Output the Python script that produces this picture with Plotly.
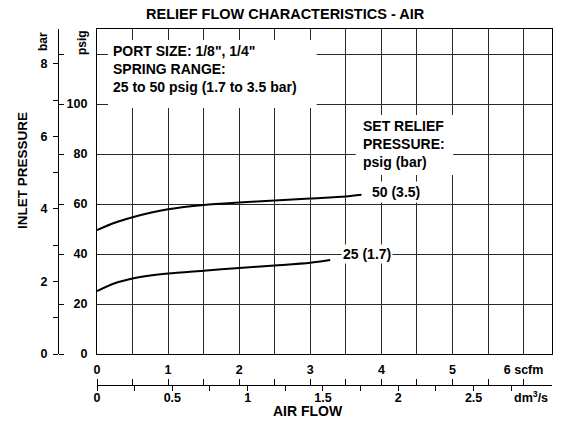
import plotly.graph_objects as go

# ---- data ----
flow_50 = [0, 0.25, 0.5, 0.75, 1.0, 1.5, 2.0, 2.5, 3.0, 3.5, 3.72]          # scfm
psig_50 = [49.6, 52.5, 54.7, 56.5, 57.9, 59.6, 60.6, 61.4, 62.2, 63.0, 63.7]
flow_25 = [0, 0.25, 0.5, 0.75, 1.0, 1.5, 2.0, 2.5, 3.0, 3.28]
psig_25 = [25.2, 28.3, 30.2, 31.4, 32.2, 33.3, 34.4, 35.4, 36.5, 37.6]

scfm_ticks = [0, 0.5, 1, 1.5, 2, 2.5, 3, 3.5, 4, 4.5, 5, 5.5, 6]
scfm_text = ["0", "", "1", "", "2", "", "3", "", "4", "", "5", "", "6 scfm"]
dm3_ticks = [0, 0.25, 0.5, 0.75, 1, 1.25, 1.5, 1.75, 2, 2.25, 2.5, 2.75]
dm3_text = ["0", "", "0.5", "", "1", "", "1.5", "", "2", "", "2.5", ""]
psig_ticks = [0, 20, 40, 60, 80, 100, 120]
psig_text = ["0", "20", "40", "60", "80", "100", ""]
bar_ticks = [0, 1, 2, 3, 4, 5, 6, 7, 8]
bar_text = ["0", "", "2", "", "4", "", "6", "", "8"]

X_MAX = 6.4
Y_MAX = 130
PSI_PER_BAR = 14.5038
DM3_PER_SCFM = 0.471947

W, H = 565, 421
OFF = 8  # page body margin offset
FONT = "Liberation Sans, Arial, Helvetica, sans-serif"
bold = dict(family=FONT, size=12.5, color="black", weight="bold")


def px(xp):
    return (xp - OFF) / W


def py(yp):
    return (H - (yp - OFF)) / H


fig = go.Figure()
fig.add_trace(go.Scatter(x=flow_50, y=psig_50, mode="lines",
                         line=dict(color="black", width=2, shape="spline", smoothing=0.8),
                         showlegend=False, hoverinfo="skip"))
fig.add_trace(go.Scatter(x=flow_25, y=psig_25, mode="lines",
                         line=dict(color="black", width=2, shape="spline", smoothing=0.8),
                         showlegend=False, hoverinfo="skip"))
# empty traces so that every secondary axis gets drawn
for xa, ya in [("x2", "y"), ("x3", "y"), ("x", "y2"), ("x", "y3")]:
    fig.add_trace(go.Scatter(x=[None], y=[None], xaxis=xa, yaxis=ya, mode="lines",
                             showlegend=False, hoverinfo="skip"))

x_dom = [px(97), px(552)]
y_dom = [py(354), py(29)]
flow_axis_y = py(385)
bar_axis_x = px(58)

fig.update_layout(
    width=W, height=H,
    margin=dict(l=0, r=0, t=0, b=0, pad=0, autoexpand=False),
    paper_bgcolor="white", plot_bgcolor="white",
    font=dict(family=FONT, color="black"),
    xaxis=dict(domain=x_dom, range=[0, X_MAX], tickvals=scfm_ticks, showticklabels=False,
               ticks="", showgrid=True, gridcolor="#2a2a2a", gridwidth=1,
               showline=True, mirror=True, linecolor="black", linewidth=1.3,
               zeroline=False, anchor="y", automargin=False),
    xaxis2=dict(overlaying="x", anchor="free", position=flow_axis_y, side="bottom",
                range=[0, X_MAX * DM3_PER_SCFM], tickvals=dm3_ticks, ticktext=dm3_text,
                ticks="outside", ticklen=5, tickcolor="black", tickwidth=1,
                showline=True, linecolor="black", linewidth=1.2, showgrid=False,
                zeroline=False, tickfont=bold, ticklabelstandoff=-4, automargin=False),
    xaxis3=dict(overlaying="x", anchor="free", position=flow_axis_y, side="top",
                range=[0, X_MAX], tickvals=scfm_ticks, ticktext=scfm_text,
                ticks="outside", ticklen=6, tickcolor="black", tickwidth=1,
                showline=False, showgrid=False, zeroline=False, tickfont=bold,
                automargin=False),
    yaxis=dict(domain=y_dom, range=[0, Y_MAX], tickvals=psig_ticks, ticktext=psig_text,
               ticks="", showgrid=True, gridcolor="#2a2a2a", gridwidth=1,
               showline=True, mirror=True, linecolor="black", linewidth=1.3,
               zeroline=False, tickfont=bold, ticklabelstandoff=6, anchor="x",
               automargin=False),
    yaxis2=dict(overlaying="y", anchor="free", position=bar_axis_x, side="left",
                range=[0, Y_MAX / PSI_PER_BAR], tickvals=bar_ticks, ticktext=bar_text,
                ticks="outside", ticklen=5, tickcolor="black", tickwidth=1,
                showline=True, linecolor="black", linewidth=1.2, showgrid=False,
                zeroline=False, tickfont=bold, ticklabelstandoff=3, automargin=False),
    yaxis3=dict(overlaying="y", anchor="free", position=bar_axis_x, side="right",
                range=[0, Y_MAX], tickvals=psig_ticks, showticklabels=False,
                ticks="outside", ticklen=5, tickcolor="black", tickwidth=1,
                showline=False, showgrid=False, zeroline=False, automargin=False),
)

# white boxes behind the two text blocks (hide the grid there)
fig.add_shape(type="rect", xref="x", yref="y", x0=0.155, x1=3.09, y0=98.4, y1=125.6,
              fillcolor="white", line=dict(width=0), layer="above")
fig.add_shape(type="rect", xref="x", yref="y", x0=3.64, x1=5.01, y0=71.6, y1=95.6,
              fillcolor="white", line=dict(width=0), layer="above")

ann_font = dict(family=FONT, size=14, color="black", weight="bold")
small = dict(family=FONT, size=12, color="black", weight="bold")
C = dict(xanchor="center", yanchor="middle", showarrow=False)
annotations = [
    dict(text="RELIEF FLOW CHARACTERISTICS - AIR", xref="paper", yref="paper",
         x=px(285), y=py(13.5),
         font=dict(family=FONT, size=14.5, color="black", weight="bold"), **C),
    dict(text="AIR FLOW", xref="paper", yref="paper", x=px(308), y=py(411),
         font=ann_font, **C),
    dict(text="INLET PRESSURE", xref="paper", yref="paper", x=px(23), y=py(171),
         textangle=-90, font=dict(family=FONT, size=13.5, color="black", weight="bold"), **C),
    dict(text="bar", xref="paper", yref="paper", x=px(43), y=py(42),
         textangle=-90, font=small, **C),
    dict(text="psig", xref="paper", yref="paper", x=px(82), y=py(43),
         textangle=-90, font=small, **C),
    dict(text="dm<sup>3</sup>/s", xref="x2", yref="paper", x=2.88, y=py(397),
         font=bold, **C),
    dict(text="PORT SIZE: 1/8\", 1/4\"<br>SPRING RANGE:<br>25 to 50 psig (1.7 to 3.5 bar)",
         xref="x", yref="y", x=0.2, y=114.2, xanchor="left", yanchor="middle",
         align="left", showarrow=False, font=ann_font),
    dict(text="SET RELIEF<br>PRESSURE:<br>psig (bar)", xref="x", yref="y",
         x=3.72, y=84, xanchor="left", yanchor="middle",
         align="left", showarrow=False, font=ann_font),
    dict(text="50 (3.5)", xref="x", yref="y", x=4.2, y=64.8, bgcolor="white",
         borderpad=2, font=ann_font, **C),
    dict(text="25 (1.7)", xref="x", yref="y", x=3.8, y=40, bgcolor="white",
         borderpad=1, font=ann_font, **C),
]
fig.update_layout(annotations=annotations)

fig.write_html("out.html")
